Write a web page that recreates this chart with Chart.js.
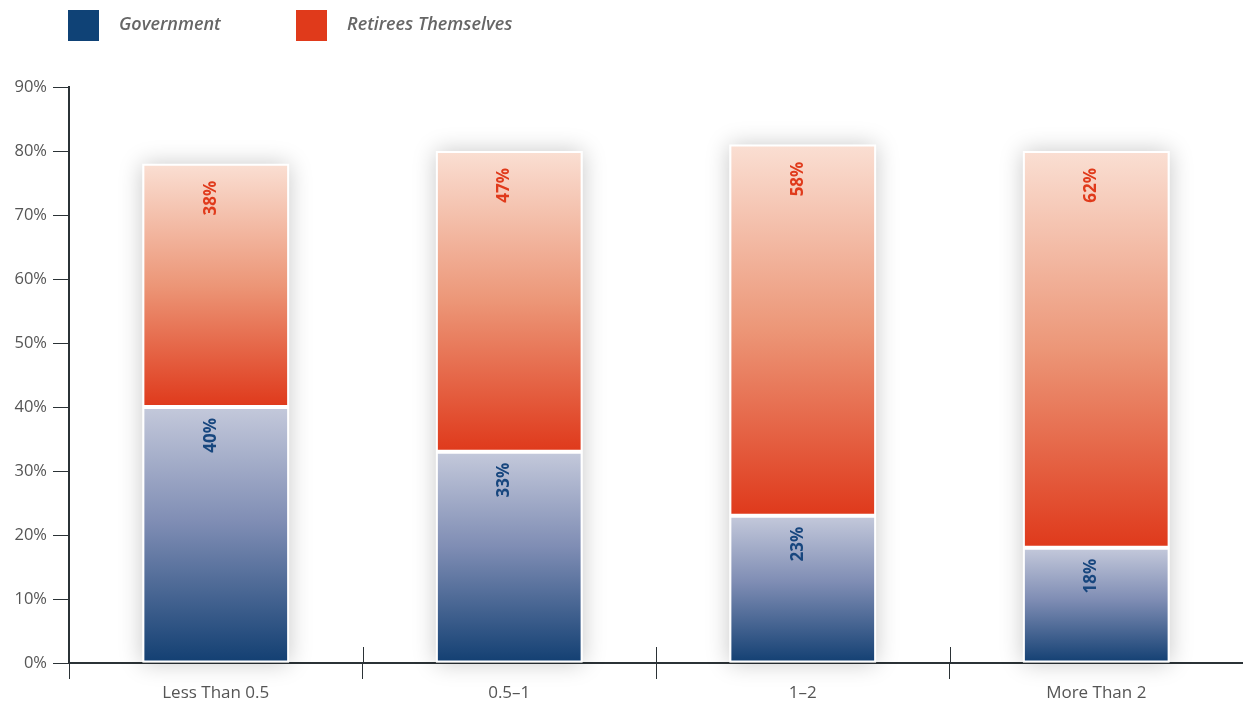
<!DOCTYPE html>
<html>
<head>
<meta charset="utf-8">
<script src="https://cdn.jsdelivr.net/npm/chart.js@4.4.1/dist/chart.umd.min.js"></script>
<style>
  html, body { margin: 0; padding: 0; background: #fff; }
  #wrap { position: relative; width: 1243px; height: 704px; }
  #legend { position: absolute; left: 0; top: 0; width: 1243px; height: 50px;
            font-family: "Open Sans", sans-serif; font-style: italic; font-weight: 600;
            font-size: 18px; color: #666; }
  .item { position: absolute; top: 10px; display: flex; align-items: center; height: 31px; }
  .item span { position: relative; top: -3px; }
  .swatch { width: 31px; height: 31px; margin-right: 20px; }
  #chart { position: absolute; left: 0; top: 0; }
</style>
</head>
<body>
<div id="wrap">
  <canvas id="chart" width="1243" height="704"></canvas>
  <div id="legend"></div>
</div>
<script>
// Share of retirement costs borne by each party, by category
const categories = ['Less Than 0.5', '0.5\u20131', '1\u20132', 'More Than 2'];
const governmentShare = [40, 33, 23, 18];
const retireesShare = [38, 47, 58, 62];
const seriesNames = ['Government', 'Retirees Themselves'];
const yTicks = [0, 10, 20, 30, 40, 50, 60, 70, 80, 90];

const BLUE = '#0f4276';
const RED = '#e03a1b';

// legend
const legend = document.getElementById('legend');
[[seriesNames[0], BLUE, 68], [seriesNames[1], RED, 296]].forEach(([name, color, left]) => {
  const it = document.createElement('div');
  it.className = 'item';
  it.style.left = left + 'px';
  it.innerHTML = '<div class="swatch" style="background:' + color + '"></div><span>' + name + '</span>';
  legend.appendChild(it);
});

// vertical gradient spanning a single stacked segment
function segmentGradient(ctx, stops) {
  const chart = ctx.chart;
  if (!chart.chartArea || ctx.type !== 'data') return stops[stops.length - 1][1];
  const y = chart.scales.y;
  const i = ctx.dataIndex;
  let base = 0;
  for (let d = 0; d < ctx.datasetIndex; d++) base += chart.data.datasets[d].data[i];
  const top = base + chart.data.datasets[ctx.datasetIndex].data[i];
  const g = chart.ctx.createLinearGradient(0, y.getPixelForValue(top), 0, y.getPixelForValue(base));
  stops.forEach(([p, c]) => g.addColorStop(p, c));
  return g;
}

const blueStops = [[0, '#c4c9db'], [0.45, '#7f8db4'], [1, '#123f72']];
const redStops = [[0, '#fadfd3'], [0.5, '#ec9677'], [1, '#df391b']];

// soft shadow behind each full bar
const barShadow = {
  id: 'barShadow',
  beforeDatasetsDraw(chart) {
    const c = chart.ctx;
    const m0 = chart.getDatasetMeta(0), m1 = chart.getDatasetMeta(1);
    c.save();
    c.shadowColor = 'rgba(0,0,0,0.22)';
    c.shadowBlur = 22;
    c.fillStyle = '#ffffff';
    m1.data.forEach((bar, i) => {
      const b0 = m0.data[i];
      const w = bar.width;
      c.fillRect(bar.x - w / 2, bar.y, w, b0.base - bar.y);
    });
    c.restore();
  }
};

// rotated value labels near the top of each segment, plus category separators
const valueLabels = {
  id: 'valueLabels',
  afterDatasetsDraw(chart) {
    const c = chart.ctx;
    const colors = ['#17467e', '#e03a1b'];
    const offsets = [11, 17];
    chart.data.datasets.forEach((ds, d) => {
      chart.getDatasetMeta(d).data.forEach((bar, i) => {
        c.save();
        c.translate(bar.x - 5, bar.y + offsets[d]);
        c.rotate(-Math.PI / 2);
        c.font = 'bold 17px "Open Sans", sans-serif';
        c.fillStyle = colors[d];
        c.textAlign = 'right';
        c.textBaseline = 'middle';
        c.fillText(ds.data[i] + '%', 0, 0);
        c.restore();
      });
    });
    // separators rising above the baseline between categories
    const x = chart.scales.x, y = chart.scales.y;
    const y0 = y.getPixelForValue(0);
    c.save();
    c.strokeStyle = '#2b3236';
    c.lineWidth = 1;
    for (let i = 1; i < categories.length; i++) {
      const px = Math.round((x.getPixelForValue(i - 1) + x.getPixelForValue(i)) / 2) + 0.5;
      c.beginPath();
      c.moveTo(px, y0 - 16);
      c.lineTo(px, y0);
      c.stroke();
    }
    c.restore();
  }
};

new Chart(document.getElementById('chart'), {
  type: 'bar',
  data: {
    labels: categories,
    datasets: [
      { label: seriesNames[0], data: governmentShare,
        backgroundColor: ctx => segmentGradient(ctx, blueStops) },
      { label: seriesNames[1], data: retireesShare,
        backgroundColor: ctx => segmentGradient(ctx, redStops) }
    ]
  },
  options: {
    responsive: false,
    animation: false,
    layout: { padding: { top: 87, right: -2, left: 0, bottom: 0 } },
    datasets: {
      bar: {
        categoryPercentage: 1,
        barPercentage: 0.5,
        borderColor: '#ffffff',
        borderWidth: 2,
        borderSkipped: false
      }
    },
    plugins: { legend: { display: false }, tooltip: { enabled: false } },
    scales: {
      x: {
        stacked: true,
        afterFit: axis => { axis.height = 41; },
        grid: { drawOnChartArea: false, drawTicks: true, tickLength: 16, color: '#2b3236', offset: true },
        border: { color: '#2b3236', width: 2 },
        ticks: { color: '#555', font: { family: '"Open Sans", sans-serif', size: 17 }, padding: 4 }
      },
      y: {
        stacked: true,
        min: 0, max: 90,
        afterFit: axis => { axis.width = 69; },
        afterBuildTicks: axis => { axis.ticks = yTicks.map(v => ({ value: v })); },
        grid: { drawOnChartArea: false, drawTicks: true, tickLength: 16, color: '#2b3236' },
        border: { color: '#2b3236', width: 2 },
        ticks: { color: '#555', font: { family: '"Open Sans", sans-serif', size: 16.5 }, padding: 6,
                 callback: v => v + '%' }
      }
    }
  },
  plugins: [barShadow, valueLabels]
});
</script>
</body>
</html>
